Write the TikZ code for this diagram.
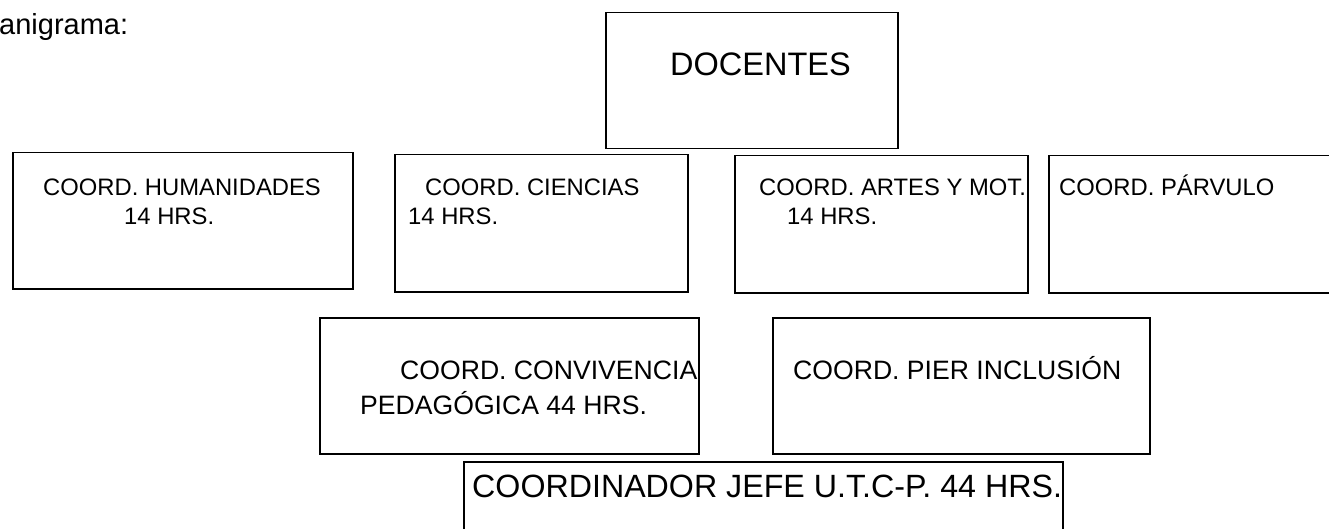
\documentclass[tikz,border=0pt]{standalone}
\usepackage{fontspec}
\setmainfont{Liberation Sans}
\begin{document}
\begin{tikzpicture}[x=1pt,y=-1pt,
  orgbox/.style={draw=black, line width=1.5pt, rectangle, inner sep=0pt, anchor=north west},
  lbl/.style={inner sep=0pt, anchor=base west, text=black},
  fA/.style={font=\fontsize{23.8}{28}\selectfont},
  fB/.style={font=\fontsize{26.6}{32}\selectfont},
  fC/.style={font=\fontsize{32.2}{38}\selectfont}]
\clip (0,0) rectangle (1329,529);
\fill[white] (0,0) rectangle (1329,529);
% title fragment
\node[lbl, font=\fontsize{29}{34}\selectfont] (title) at (-1,35) {anigrama:};
% DOCENTES
\node[orgbox, minimum width=292pt, minimum height=136pt] (doc) at (605,12) {};
\node[lbl, font=\fontsize{32.5}{38}\selectfont] (doct) at (670,76) {DOCENTES};
% row 1
\node[orgbox, minimum width=340pt, minimum height=136pt] (hum) at (12,152) {};
\node[lbl, fA] (hum1) at (43,196) {COORD. HUMANIDADES};
\node[lbl, fA] (hum2) at (124,225) {14 HRS.};
\node[orgbox, minimum width=293pt, minimum height=137pt] (cie) at (394,154) {};
\node[lbl, fA] (cie1) at (425,196) {COORD. CIENCIAS};
\node[lbl, fA] (cie2) at (408,225) {14 HRS.};
\node[orgbox, minimum width=293pt, minimum height=137pt] (art) at (734,155) {};
\node[lbl, fA] (art1) at (759,196) {COORD. ARTES Y MOT.};
\node[lbl, fA] (art2) at (787,225) {14 HRS.};
\node[orgbox, minimum width=300pt, minimum height=137pt] (par) at (1048,155) {};
\node[lbl, fA] (par1) at (1059,196) {COORD. PÁRVULO};
% row 2
\node[orgbox, minimum width=379pt, minimum height=136pt] (conv) at (319,317) {};
\node[lbl, fB] (conv1) at (400,379) {COORD. CONVIVENCIA};
\node[lbl, fB] (conv2) at (360,414) {PEDAGÓGICA 44 HRS.};
\node[orgbox, minimum width=377pt, minimum height=136pt] (pier) at (772,317) {};
\node[lbl, fB] (pier1) at (793,379) {COORD. PIER INCLUSIÓN};
% bottom
\node[orgbox, minimum width=599pt, minimum height=100pt] (jefe) at (463,461) {};
\node[lbl, fC] (jefe1) at (472,497) {COORDINADOR JEFE U.T.C-P. 44 HRS.};
\end{tikzpicture}
\end{document}
